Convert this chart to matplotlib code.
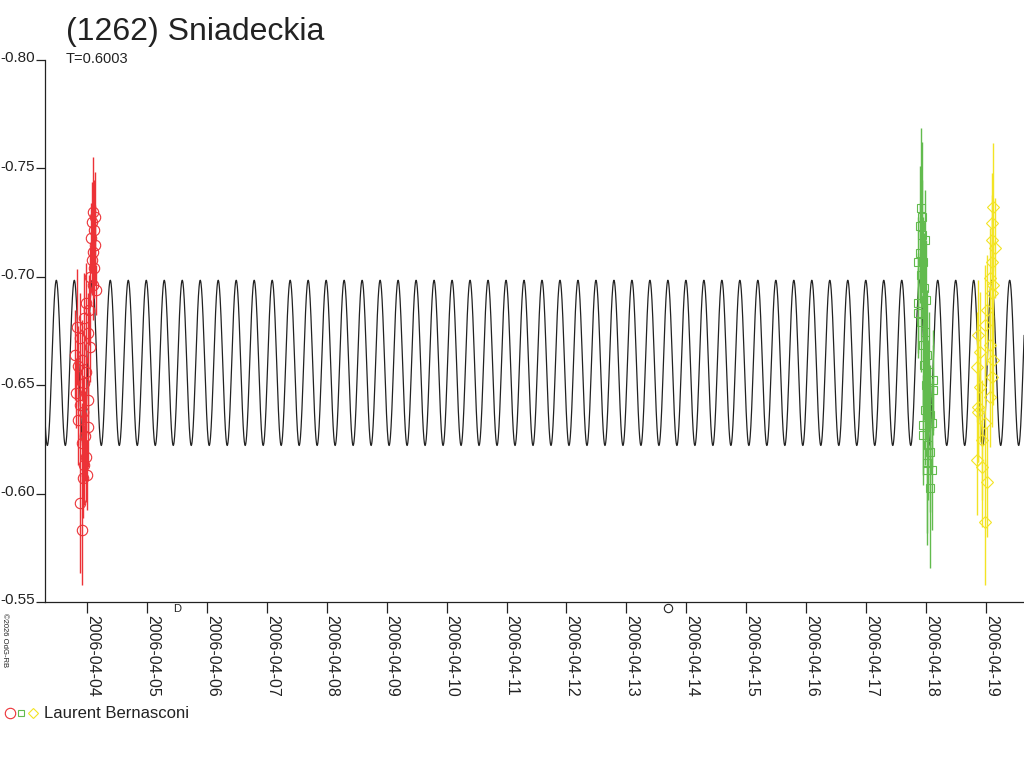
import numpy as np
import matplotlib
matplotlib.use("Agg")
import matplotlib.pyplot as plt
from matplotlib.lines import Line2D
import matplotlib.transforms as mtransforms

plt.rcParams['font.family'] = ['Liberation Sans', 'DejaVu Sans']

# ---------------------------------------------------------------------
# donnees (temps en jour d'avril 2006, magnitude relative)
# ---------------------------------------------------------------------
titre = "(1262) Sniadeckia"
periode = 0.6003          # jours, courbe a deux maxima
mag_moy = -0.6603
amplitude = 0.0381
epoque_max = 4.0884       # instant d'un maximum de la courbe

t_rouge = [4.100, 4.133, 4.083, 4.117, 4.067, 4.133, 4.100, 4.083, 4.117, 4.050,
           4.100, 4.150, 3.983, 4.033, 3.950, 3.833, 4.017, 3.883, 4.050, 3.800,
           3.917, 3.850, 3.983, 3.950, 3.817, 4.017, 3.883, 3.933, 3.850, 4.017,
           3.967, 3.917, 3.983, 3.950, 4.000, 3.933, 3.883, 3.917]
m_rouge = [-0.7299, -0.7276, -0.7253, -0.7216, -0.7179, -0.7147, -0.7114, -0.7078, -0.7041, -0.6999,
           -0.6962, -0.6939, -0.6879, -0.6847, -0.6810, -0.6768, -0.6741, -0.6718, -0.6676, -0.6639,
           -0.6616, -0.6589, -0.6561, -0.6510, -0.6464, -0.6432, -0.6409, -0.6376, -0.6339, -0.6307,
           -0.6266, -0.6233, -0.6169, -0.6132, -0.6086, -0.6072, -0.5957, -0.5832]
e_rouge = [0.0254, 0.0208, 0.0185, 0.0231, 0.0161, 0.0185, 0.0138, 0.0161, 0.0138, 0.0138,
           0.0161, 0.0115, 0.0185, 0.0161, 0.0208, 0.0268, 0.0185, 0.0208, 0.0161, 0.0208,
           0.0185, 0.0185, 0.0161, 0.0185, 0.0161, 0.0161, 0.0185, 0.0161, 0.0208, 0.0185,
           0.0208, 0.0185, 0.0208, 0.0185, 0.0161, 0.0185, 0.0323, 0.0254]

t_vert = [17.917, 17.934, 17.900, 17.934, 17.983, 17.900, 17.866, 17.950, 17.917, 17.967,
          17.866, 18.000, 17.866, 17.917, 17.983, 17.950, 18.016, 17.967, 18.050, 18.116,
          18.000, 18.116, 18.033, 17.983, 18.066, 18.100, 17.950, 17.950, 18.033, 18.066,
          18.016, 18.016, 18.100, 18.066]
m_vert = [-0.7317, -0.7276, -0.7234, -0.7193, -0.7170, -0.7110, -0.7068, -0.7068, -0.7008, -0.6948,
          -0.6879, -0.6893, -0.6833, -0.6792, -0.6745, -0.6685, -0.6639, -0.6593, -0.6561, -0.6524,
          -0.6501, -0.6478, -0.6432, -0.6386, -0.6363, -0.6326, -0.6316, -0.6270, -0.6224, -0.6192,
          -0.6141, -0.6109, -0.6109, -0.6026]
e_vert = [0.0369, 0.0346, 0.0277, 0.0254, 0.0231, 0.0231, 0.0208, 0.0208, 0.0231, 0.0254,
          0.0231, 0.0277, 0.0208, 0.0231, 0.0254, 0.0277, 0.0300, 0.0254, 0.0277, 0.0231,
          0.0254, 0.0208, 0.0277, 0.0254, 0.0231, 0.0208, 0.0231, 0.0231, 0.0254, 0.0277,
          0.0323, 0.0346, 0.0277, 0.0369]

t_jaune = [19.118, 19.101, 19.101, 19.151, 19.101, 19.067, 19.118, 19.101, 19.017, 18.984,
           18.867, 19.067, 18.901, 19.118, 18.851, 19.101, 18.901, 19.067, 18.867, 18.867,
           18.984, 18.934, 18.851, 18.934, 19.017, 18.984]
m_jaune = [-0.7322, -0.7248, -0.7170, -0.7133, -0.7068, -0.6994, -0.6962, -0.6925, -0.6847, -0.6778,
           -0.6732, -0.6685, -0.6653, -0.6616, -0.6584, -0.6538, -0.6492, -0.6446, -0.6399, -0.6376,
           -0.6326, -0.6247, -0.6155, -0.6123, -0.6054, -0.5869]
e_jaune = [0.0295, 0.0231, 0.0208, 0.0231, 0.0208, 0.0231, 0.0208, 0.0231, 0.0254, 0.0277,
           0.0254, 0.0231, 0.0277, 0.0208, 0.0254, 0.0231, 0.0254, 0.0231, 0.0254, 0.0231,
           0.0254, 0.0277, 0.0254, 0.0277, 0.0254, 0.0291]

jours = list(range(4, 20))
etiquettes_x = [f"2006-04-{j:02d}" for j in jours]
valeurs_y = [-0.80, -0.75, -0.70, -0.65, -0.60, -0.55]

lune_premier_quartier = 5.50
lune_pleine = 13.69

observateur = "Laurent Bernasconi"
copyright_txt = "\u00a92026 OdG-RB"

rouge = "#ec3237"
vert = "#62bb4e"
jaune = "#f3e424"
noir = "#222222"

# ---------------------------------------------------------------------
# figure
# ---------------------------------------------------------------------
fig = plt.figure(figsize=(10.24, 7.68), dpi=100)
ax = fig.add_axes([45 / 1024, 1 - 602 / 768, (1024 - 45) / 1024, 542 / 768])

# courbe de Fourier (un seul terme visible)
t_mod = np.linspace(3.2992, 19.64, 6000)
m_mod = mag_moy - amplitude * np.cos(4 * np.pi * (t_mod - epoque_max) / periode)
ax.plot(t_mod, m_mod, color=noir, lw=0.9, zorder=2)

for t, m, e, c, mk, ms in [(t_rouge, m_rouge, e_rouge, rouge, 'o', 7.5),
                           (t_vert, m_vert, e_vert, vert, 's', 5.5),
                           (t_jaune, m_jaune, e_jaune, jaune, 'D', 6.0)]:
    ax.errorbar(t, m, yerr=e, fmt=mk, ms=ms, mfc='none', mec=c, mew=0.8,
                ecolor=c, elinewidth=1.0, capsize=0, zorder=3)

ax.set_xlim(3.2992, 19.635)
ax.set_ylim(-0.55, -0.80)

for cote in ['top', 'right']:
    ax.spines[cote].set_visible(False)
for cote in ['left', 'bottom']:
    ax.spines[cote].set_color(noir)
    ax.spines[cote].set_linewidth(0.9)

ax.set_xticks(jours)
ax.set_xticklabels(etiquettes_x, rotation=270, ha='left', fontsize=11.5)
ax.set_yticks(valeurs_y)
ax.set_yticklabels([f"{v:.2f}" for v in valeurs_y], fontsize=11)
ax.tick_params(axis='x', direction='out', length=8, width=0.9, pad=1.5, colors=noir)
ax.tick_params(axis='y', direction='out', length=6.5, width=0.9, pad=0.8, colors=noir)

decal_y = mtransforms.ScaledTranslation(0, 3 / 100, fig.dpi_scale_trans)
for lab in ax.get_yticklabels():
    lab.set_transform(lab.get_transform() + decal_y)
decal_x = mtransforms.ScaledTranslation(-2 / 100, 0, fig.dpi_scale_trans)
for lab in ax.get_xticklabels():
    lab.set_transform(lab.get_transform() + decal_x)

# phases de la Lune sous l'axe
trans_lune = mtransforms.blended_transform_factory(ax.transData, ax.transAxes)
ax.text(lune_premier_quartier, -0.003, "D", transform=trans_lune, fontsize=8,
        ha='center', va='top', color=noir, clip_on=False)
ax.plot([lune_pleine], [-0.011], marker='o', ms=6, mfc='none', mec=noir, mew=0.8,
        transform=trans_lune, clip_on=False)

# titres
fig.text(66 / 1024, 1 - 40 / 768, titre, fontsize=23, va='baseline', ha='left', color=noir)
fig.text(66 / 1024, 1 - 63 / 768, f"T={periode:.4f}", fontsize=10.5, va='baseline', ha='left', color=noir)

# legende observateur
y_leg = 1 - 713 / 768
fig.add_artist(Line2D([9.5 / 1024], [y_leg], marker='o', ms=7.5, mfc='none', mec=rouge, mew=0.8))
fig.add_artist(Line2D([21 / 1024], [y_leg], marker='s', ms=5, mfc='none', mec=vert, mew=0.8))
fig.add_artist(Line2D([33 / 1024], [y_leg], marker='D', ms=5.5, mfc='none', mec=jaune, mew=0.8))
fig.text(44 / 1024, y_leg, observateur, fontsize=12, va='center', ha='left', color=noir)

fig.text(1 / 1024, 1 - 613 / 768, copyright_txt, fontsize=5.5, rotation=270,
         ha='left', va='top', color=noir)

fig.savefig("out.png", dpi=100)
